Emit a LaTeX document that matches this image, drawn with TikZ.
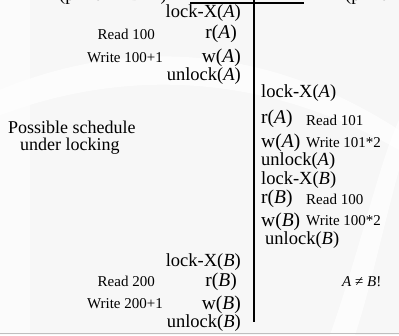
\documentclass[tikz,border=0pt]{standalone}
\usepackage{fontspec}
\setmainfont{Liberation Serif}
\begin{document}
\begin{tikzpicture}[x=1pt,y=-1pt,
  op/.style={inner sep=0pt,font=\fontsize{18.5}{20}\selectfont},
  rw/.style={inner sep=0pt,font=\fontsize{19.5}{21}\selectfont},
  note/.style={inner sep=0pt,font=\fontsize{15}{17}\selectfont},
  title/.style={inner sep=0pt,font=\fontsize{18}{20}\selectfont},
  axis/.style={line width=1.8pt}]
% canvas and faint background swooshes
\fill[black!3] (0,0) rectangle (399,335);
\fill[white,opacity=0.7] (0,90) .. controls (120,40) and (260,40) .. (399,130)
  -- (399,150) .. controls (260,70) and (120,70) .. (0,115) -- cycle;
\fill[white,opacity=0.7] (330,335) .. controls (360,250) and (380,160) .. (399,120)
  -- (399,170) .. controls (385,220) and (370,290) .. (355,335) -- cycle;
\fill[white,opacity=0.6] (0,0) rectangle (30,335);
\useasboundingbox (0,0) rectangle (399,335);
\draw[black!25,line width=0.8pt] (0,333) -- (399,333);

% header captions running off the top edge
\begin{scope}
\clip (0,0) rectangle (399,335);
\node[op,anchor=base] (capL) at (113,0.5) {(print A+B=1)};
\node[op,anchor=base west] (capR) at (345,0.5) {(print A+B};
\end{scope}

% timeline
\coordinate (hL) at (190,3);
\coordinate (hR) at (304,3);
\coordinate (vT) at (254,0);
\coordinate (vB) at (254,322);
\draw[axis] (hL) -- (hR);
\draw[axis] (vT) -- (vB);

% transaction T1, first part
\node[op,anchor=east] (l1) at (241,13) {lock-X(\textit{A})};
\node[rw,anchor=east] (r1) at (237,34) {r(\textit{A})};
\node[note,anchor=east] (n1) at (155,34) {Read 100};
\node[rw,anchor=east] (w1) at (241,58) {w(\textit{A})};
\node[note,anchor=east] (n2) at (163,58) {Write 100+1};
\node[op,anchor=east] (u1) at (241,76) {unlock(\textit{A})};

\node[title,anchor=west] (t1) at (8,127) {Possible schedule};
\node[title,anchor=west] (t2) at (20,146) {under locking};

% transaction T2
\node[op,anchor=west] (l2) at (261,93) {lock-X(\textit{A})};
\node[rw,anchor=west] (r2) at (261,119) {r(\textit{A})};
\node[note,anchor=west] (n3) at (306,120) {Read 101};
\node[rw,anchor=west] (w2) at (261,143) {w(\textit{A})};
\node[note,anchor=west] (n4) at (306,143) {Write 101*2};
\node[op,anchor=west] (u2) at (261,161) {unlock(\textit{A})};
\node[op,anchor=west] (l3) at (261,180) {lock-X(\textit{B})};
\node[rw,anchor=west] (r3) at (261,199) {r(\textit{B})};
\node[note,anchor=west] (n5) at (306,199) {Read 100};
\node[rw,anchor=west] (w3) at (261,222) {w(\textit{B})};
\node[note,anchor=west] (n6) at (306,221) {Write 100*2};
\node[op,anchor=west] (u3) at (265,240) {unlock(\textit{B})};

% transaction T1, second part
\node[op,anchor=east] (l4) at (241,262) {lock-X(\textit{B})};
\node[rw,anchor=east] (r4) at (237,282) {r(\textit{B})};
\node[note,anchor=east] (n7) at (155,281) {Read 200};
\node[rw,anchor=east] (w4) at (241,305) {w(\textit{B})};
\node[note,anchor=east] (n8) at (163,304) {Write 200+1};
\node[op,anchor=east] (u4) at (241,323) {unlock(\textit{B})};

\node[note,anchor=west] (ne) at (342,282) {\textit{A} ≠ \textit{B}!};
\end{tikzpicture}
\end{document}
